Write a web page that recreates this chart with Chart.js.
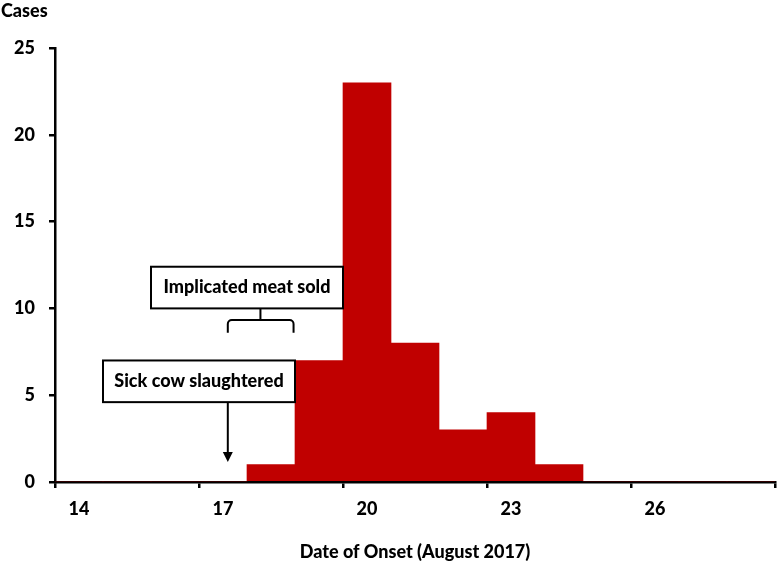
<!DOCTYPE html>
<html><head><meta charset="utf-8">
<script src="https://cdn.jsdelivr.net/npm/chart.js@4/dist/chart.umd.min.js"></script>
<style>html,body{margin:0;padding:0;background:#fff}#wrap{width:780px;height:564px}</style>
</head><body>
<div id="wrap"><canvas id="c" width="780" height="564"></canvas></div>
<script>
// ---- data ----
const days = [14,15,16,17,18,19,20,21,22,23,24,25,26,27,28];
const cases = [0,0,0,0,1,7,23,8,3,4,1,0,0,0,0];
const xTickLabels = ['14','17','20','23','26'];
const xTickBounds = [13.5,16.5,19.5,22.5,25.5,28.5];
const yTicks = [0,5,10,15,20,25];
const yLabel = 'Cases';
const xLabel = 'Date of Onset (August 2017)';

// annotation texts and placements (data units)
const notes = [
  {text:'Implicated meat sold', x0:15.5, x1:19.5, y0:12.4, y1:10.0},
  {text:'Sick cow slaughtered', x0:14.5, x1:18.5, y0:7.0, y1:4.6}
];
const bracket = {x0:17.1, x1:18.47, xs:17.78, yTop:10.0, yMid:9.33, yEnd:8.6};
const arrow = {x:17.1, yFrom:4.6, yTo:1.15};

const FONT = 'Lato';
const W = '900';

const annotPlugin = {
  id:'annot',
  afterDraw(chart){
    const {ctx, scales:{x, y}} = chart;
    ctx.save();
    ctx.fillStyle = '#000';
    ctx.font = W + ' 18px ' + FONT;
    ctx.textAlign = 'left';
    ctx.textBaseline = 'middle';
    ctx.fillText(yLabel, 1, 11);
    ctx.lineWidth = 2;
    ctx.strokeStyle = '#000';
    notes.forEach(n=>{
      const l = x.getPixelForValue(n.x0), r = x.getPixelForValue(n.x1);
      const t = y.getPixelForValue(n.y0), b = y.getPixelForValue(n.y1);
      ctx.fillStyle = '#fff';
      ctx.fillRect(l, t, r-l, b-t);
      ctx.strokeRect(l, t, r-l, b-t);
      ctx.fillStyle = '#000';
      ctx.font = W + ' 18px ' + FONT;
      ctx.textAlign = 'center';
      ctx.textBaseline = 'middle';
      ctx.fillText(n.text, (l+r)/2, (t+b)/2);
    });
    const bx0 = x.getPixelForValue(bracket.x0), bx1 = x.getPixelForValue(bracket.x1);
    const bxs = x.getPixelForValue(bracket.xs);
    const byT = y.getPixelForValue(bracket.yTop), byM = y.getPixelForValue(bracket.yMid), byE = y.getPixelForValue(bracket.yEnd);
    ctx.lineWidth = 2;
    ctx.beginPath();
    ctx.moveTo(bxs, byT); ctx.lineTo(bxs, byM);
    ctx.moveTo(bx0, byE);
    ctx.arcTo(bx0, byM, bx0+4, byM, 4);
    ctx.lineTo(bx1-4, byM);
    ctx.arcTo(bx1, byM, bx1, byE, 4);
    ctx.lineTo(bx1, byE);
    ctx.stroke();
    const ax = x.getPixelForValue(arrow.x);
    const ay0 = y.getPixelForValue(arrow.yFrom), ay1 = y.getPixelForValue(arrow.yTo);
    ctx.beginPath();
    ctx.moveTo(ax, ay0); ctx.lineTo(ax, ay1-8); ctx.stroke();
    ctx.beginPath();
    ctx.moveTo(ax-5, ay1-10); ctx.lineTo(ax+5, ay1-10); ctx.lineTo(ax, ay1); ctx.closePath();
    ctx.fillStyle = '#000'; ctx.fill();
    ctx.restore();
  }
};

new Chart(document.getElementById('c'), {
  type:'bar',
  data:{
    datasets:[{
      data: days.map((d,i)=>({x:d, y:cases[i]})),
      backgroundColor:'#C00000',
      borderWidth:0,
      barPercentage:1,
      categoryPercentage:1
    }]
  },
  options:{
    responsive:false,
    animation:false,
    devicePixelRatio:1,
    layout:{padding:{top:48, right:5, left:0, bottom:0}},
    plugins:{legend:{display:false}, tooltip:{enabled:false}},
    scales:{
      x:{
        type:'linear', min:13.5, max:28.5, offset:false,
        afterBuildTicks(s){ s.ticks = xTickBounds.map(v=>({value:v})); },
        afterFit(s){ s.height = 82; s.paddingLeft = 0; s.paddingRight = 0; },
        ticks:{
          callback:(v,i)=> xTickLabels[i] ?? '',
          labelOffset:24, padding:10, maxRotation:0, autoSkip:false,
          color:'#000', font:{family:FONT, size:18, weight:W}
        },
        grid:{drawOnChartArea:false, drawTicks:true, tickLength:6, color:'#000', lineWidth:2.5, offset:false},
        border:{display:true, color:'#000', width:2.5},
        title:{display:true, text:xLabel, color:'#000', font:{family:FONT, size:18, weight:W}, padding:{top:0, bottom:1}}
      },
      y:{
        min:0, max:25,
        afterBuildTicks(s){ s.ticks = yTicks.map(v=>({value:v})); },
        afterFit(s){ s.width = 55; },
        ticks:{padding:14, color:'#000', font:{family:FONT, size:18, weight:W}},
        grid:{drawOnChartArea:false, drawTicks:true, tickLength:6, color:'#000', lineWidth:2.5},
        border:{display:true, color:'#000', width:2.5}
      }
    }
  },
  plugins:[annotPlugin]
});
</script>
</body></html>
